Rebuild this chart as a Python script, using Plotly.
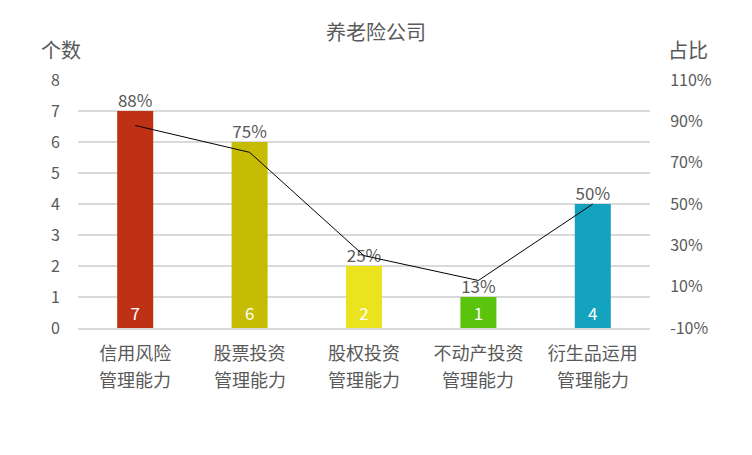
import plotly.graph_objects as go

categories = ["信用风险", "股票投资", "股权投资", "不动产投资", "衍生品运用"]
category_suffix = "管理能力"
counts = [7, 6, 2, 1, 4]
shares = [88, 75, 25, 13, 50]
share_labels = ["88%", "75%", "25%", "13%", "50%"]
bar_colors = ["#BF3114", "#C6BC04", "#EAE31E", "#5CC30C", "#14A3BF"]
left_ticks = [0, 1, 2, 3, 4, 5, 6, 7, 8]
right_ticks = [-10, 10, 30, 50, 70, 90, 110]

FONT = "Noto Sans CJK SC, Microsoft YaHei, sans-serif"
GRAY = "#595959"

fig = go.Figure()
fig.add_trace(go.Bar(
    x=categories, y=counts, marker=dict(color=bar_colors, line=dict(width=0)),
    width=0.315, text=[str(c) for c in counts], textposition="inside",
    insidetextanchor="start", textfont=dict(color="white", size=17, family=FONT),
    showlegend=False, hoverinfo="skip",
))
fig.add_trace(go.Scatter(
    x=categories, y=shares, yaxis="y2", mode="lines",
    line=dict(color="black", width=1), showlegend=False, hoverinfo="skip",
))
fig.add_trace(go.Scatter(
    x=categories, y=counts, mode="text", text=share_labels,
    textposition="top center", textfont=dict(color=GRAY, size=17, family=FONT),
    showlegend=False, hoverinfo="skip", cliponaxis=False,
))

annotations = [
    dict(text="个数", xref="paper", yref="paper", x=-0.030, y=1.125, xanchor="center",
         yanchor="middle", showarrow=False, font=dict(size=20, color=GRAY, family=FONT)),
    dict(text="占比", xref="paper", yref="paper", x=1.066, y=1.125, xanchor="center",
         yanchor="middle", showarrow=False, font=dict(size=20, color=GRAY, family=FONT)),
]
for c in categories:
    annotations.append(dict(
        text=category_suffix, xref="x", yref="paper", x=c, y=0, yshift=-51,
        xanchor="center", yanchor="middle", showarrow=False,
        font=dict(size=18, color=GRAY, family=FONT),
    ))

fig.update_layout(
    width=752, height=455,
    margin=dict(l=78, r=102, t=80, b=127),
    paper_bgcolor="white", plot_bgcolor="white",
    font=dict(family=FONT, color=GRAY),
    title=dict(text="养老险公司", x=0.5, xanchor="center", y=0.927, yanchor="middle",
               font=dict(size=20, color=GRAY, family=FONT)),
    bargap=0.685,
    xaxis=dict(showgrid=False, showline=True, linecolor="#D9D9D9", linewidth=2,
               tickfont=dict(size=18, color=GRAY, family=FONT), ticks="outside",
               ticklen=8, tickcolor="rgba(0,0,0,0)"),
    yaxis=dict(range=[0, 8], tickvals=left_ticks, showgrid=True, gridcolor="#D9D9D9",
               gridwidth=2, zeroline=False, tickfont=dict(size=16, color=GRAY, family=FONT),
               ticks="outside", ticklen=14, tickcolor="rgba(0,0,0,0)"),
    yaxis2=dict(range=[-10, 110], tickvals=right_ticks, ticktext=[f"{v}%" for v in right_ticks],
                overlaying="y", side="right", showgrid=False, zeroline=False,
                tickfont=dict(size=16, color=GRAY, family=FONT),
                ticks="outside", ticklen=16, tickcolor="rgba(0,0,0,0)"),
    annotations=annotations,
)

fig.write_html("out.html")
